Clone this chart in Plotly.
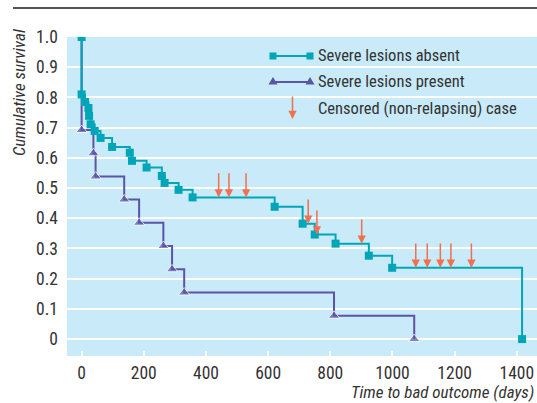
import plotly.graph_objects as go
import bisect

# ---- data ----
absent_days = [0, 0, 11, 22, 24, 29, 42, 61, 98, 155, 162, 209, 258, 267, 312, 357, 621, 711, 750, 817, 924, 999, 1417]
absent_surv = [1.0, 0.810, 0.785, 0.765, 0.739, 0.711, 0.689, 0.666, 0.636, 0.617, 0.590, 0.568, 0.540, 0.517, 0.494, 0.469, 0.438, 0.382, 0.346, 0.316, 0.276, 0.236, 0.0]

present_days = [0, 0, 38, 45, 137, 185, 263, 291, 330, 812, 1070]
present_surv = [1.0, 0.692, 0.615, 0.538, 0.462, 0.385, 0.308, 0.231, 0.154, 0.077, 0.0]

censored_days = [441, 474, 529, 729, 757, 901, 1075, 1112, 1154, 1188, 1254]

x_ticks = [0, 200, 400, 600, 800, 1000, 1200, 1400]
y_ticks = [0, 0.1, 0.2, 0.3, 0.4, 0.5, 0.6, 0.7, 0.8, 0.9, 1.0]
y_tick_labels = ["0", "0.1", "0.2", "0.3", "0.4", "0.5", "0.6", "0.7", "0.8", "0.9", "1.0"]

series_names = ["Severe lesions absent", "Severe lesions present", "Censored (non-relapsing) case"]

# ---- style ----
TEAL = "#00A6B8"
PURPLE = "#5A55A6"
SALMON = "#F0704F"
BG = "#C9EAF8"
TXT = "#333333"
FONT = "Roboto Condensed, Liberation Sans Narrow, sans-serif"
FS = 17.5
FS_LEG = 16.5
FS_TITLE = 17

W, H = 537, 403
ML, MR, MT, MB = 67, 0, 37, 47
PW, PH = W - ML - MR, H - MT - MB


def px(xp):
    return (xp - ML) / PW


def py(yp):
    return (H - MB - yp) / PH


def surv_at(days, surv, t):
    i = bisect.bisect_right(days, t) - 1
    return surv[i]


fig = go.Figure()

fig.add_trace(go.Scatter(
    x=present_days, y=present_surv, mode="lines+markers",
    line=dict(color=PURPLE, width=2, shape="hv"),
    marker=dict(symbol="triangle-up", size=[0] + [10] * (len(present_days) - 1), color=PURPLE),
    name=series_names[1], showlegend=False, hoverinfo="skip"))

fig.add_trace(go.Scatter(
    x=absent_days, y=absent_surv, mode="lines+markers",
    line=dict(color=TEAL, width=2, shape="hv"),
    marker=dict(symbol="square", size=8, color=TEAL),
    name=series_names[0], showlegend=False, hoverinfo="skip"))

annotations = []
for d in censored_days:
    s = surv_at(absent_days, absent_surv, d)
    annotations.append(dict(
        x=d, y=s, xref="x", yref="y", ax=d, ay=s + 0.085, axref="x", ayref="y",
        showarrow=True, arrowhead=2, arrowsize=1.1, arrowwidth=1.5, arrowcolor=SALMON,
        standoff=0, text=""))

shapes = []
# top rule
shapes.append(dict(type="line", xref="paper", yref="paper", x0=px(13), x1=px(W), y0=py(8), y1=py(8),
                   line=dict(color="#555555", width=2)))
# legend background (hides grid lines)
shapes.append(dict(type="rect", xref="paper", yref="paper", x0=px(258), x1=px(524), y0=py(120), y1=py(41),
                   fillcolor=BG, line=dict(width=0), layer="between"))
# legend row 1
r1 = 56
shapes.append(dict(type="line", xref="paper", yref="paper", x0=px(273), x1=px(310), y0=py(r1), y1=py(r1),
                   line=dict(color=TEAL, width=2)))
for cx in (273, 310):
    shapes.append(dict(type="rect", xref="paper", yref="paper", x0=px(cx - 3.5), x1=px(cx + 3.5),
                       y0=py(r1 + 3.5), y1=py(r1 - 3.5), fillcolor=TEAL, line=dict(width=0)))
# legend row 2
r2 = 82
shapes.append(dict(type="line", xref="paper", yref="paper", x0=px(273), x1=px(310), y0=py(r2), y1=py(r2),
                   line=dict(color=PURPLE, width=2)))
for cx in (273, 310):
    path = "M {} {} L {} {} L {} {} Z".format(px(cx - 4.5), py(r2 + 2.5), px(cx + 4.5), py(r2 + 2.5), px(cx), py(r2 - 5))
    shapes.append(dict(type="path", xref="paper", yref="paper", path=path, fillcolor=PURPLE, line=dict(width=0)))
# legend row 3 arrow
annotations.append(dict(x=px(292.5), y=py(119), xref="paper", yref="paper", ax=0, ay=-24,
                        showarrow=True, arrowhead=2, arrowsize=1.1, arrowwidth=1.5, arrowcolor=SALMON,
                        standoff=0, text=""))
# legend texts
for name, yy in zip(series_names, (56, 82, 108)):
    annotations.append(dict(x=px(316), y=py(yy), xref="paper", yref="paper", text=name, showarrow=False,
                            xanchor="left", yanchor="middle", font=dict(family=FONT, size=FS_LEG, color=TXT)))
# axis titles
annotations.append(dict(x=px(536), y=py(392), xref="paper", yref="paper", text="<i>Time to bad outcome (days)</i>",
                        showarrow=False, xanchor="right", yanchor="middle",
                        font=dict(family=FONT, size=FS_TITLE, color=TXT)))
annotations.append(dict(x=px(19), y=py(93), xref="paper", yref="paper", text="<i>Cumulative survival</i>",
                        showarrow=False, textangle=-90, xanchor="center", yanchor="middle",
                        font=dict(family=FONT, size=FS_TITLE, color=TXT)))

fig.update_layout(
    width=W, height=H, margin=dict(l=ML, r=MR, t=MT, b=MB, autoexpand=False),
    paper_bgcolor="white", plot_bgcolor=BG,
    font=dict(family=FONT, size=FS, color=TXT),
    shapes=shapes, annotations=annotations, showlegend=False,
)
fig.update_xaxes(range=[-47, 1465], tickvals=x_ticks, showgrid=False, zeroline=False, showline=False,
                 ticks="inside", ticklen=5, tickwidth=2, tickcolor="white", automargin=False,
                 tickfont=dict(family=FONT, size=FS, color=TXT), ticklabelstandoff=4)
fig.update_yaxes(range=[-0.056, 1.0], tickvals=y_ticks, ticktext=y_tick_labels, showgrid=True,
                 gridcolor="white", gridwidth=2, zeroline=False, showline=False, ticks="", automargin=False,
                 tickfont=dict(family=FONT, size=FS, color=TXT), ticklabelstandoff=8)

fig.write_html("out.html", config={"displayModeBar": False},
               post_script="document.body.style.margin='0';")
